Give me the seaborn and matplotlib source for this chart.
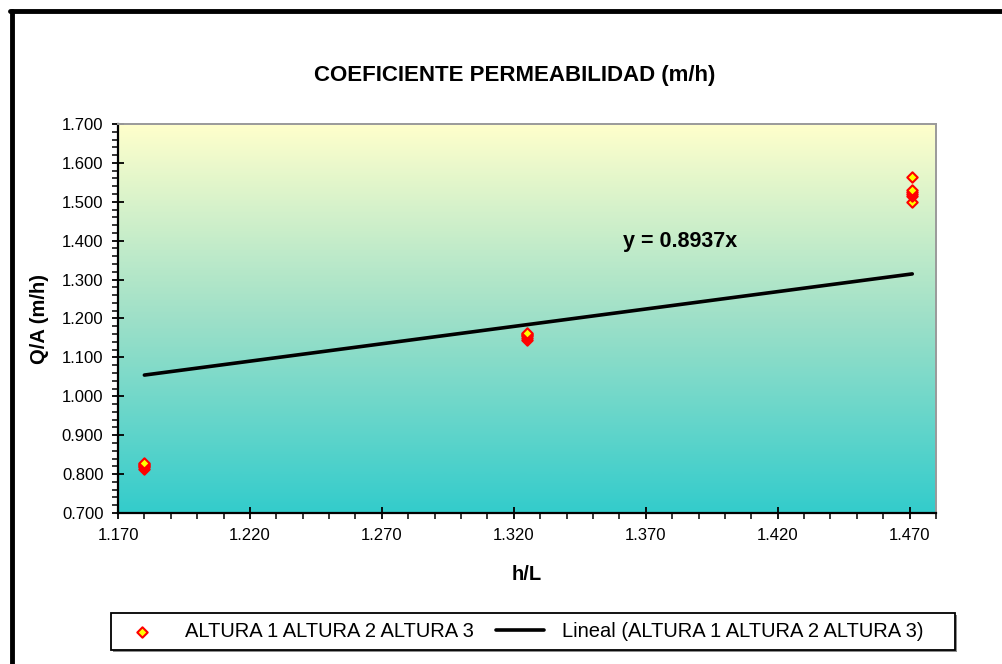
import numpy as np
import pandas as pd
import matplotlib
matplotlib.use('Agg')
import matplotlib.pyplot as plt
import seaborn as sns
from matplotlib.colors import LinearSegmentedColormap
from matplotlib.lines import Line2D
from matplotlib.patches import Rectangle
from matplotlib.ticker import MultipleLocator, FormatStrFormatter

# data
h_l = [1.180] * 6 + [1.325] * 6 + [1.471] * 6
q_a = [0.813, 0.817, 0.820, 0.823, 0.826, 0.828,
       1.145, 1.150, 1.155, 1.158, 1.160, 1.163,
       1.500, 1.515, 1.520, 1.525, 1.530, 1.565]
slope = 0.8937

series_name = 'ALTURA 1 ALTURA 2 ALTURA 3'
trend_name = 'Lineal (ALTURA 1 ALTURA 2 ALTURA 3)'

df = pd.DataFrame({'h/L': h_l, 'Q/A': q_a})
trend = pd.DataFrame({'h/L': [min(h_l), max(h_l)]})
trend['Q/A'] = slope * trend['h/L']

sns.set_style('white')
plt.rcParams['font.family'] = ['Liberation Sans', 'DejaVu Sans']
plt.rcParams['text.color'] = 'black'
plt.rcParams['axes.labelcolor'] = 'black'
plt.rcParams['xtick.color'] = 'black'
plt.rcParams['ytick.color'] = 'black'

W, H = 1002, 664
fig = plt.figure(figsize=(W / 100, H / 100), dpi=100)
ax = fig.add_axes([118 / W, 1 - 513 / H, (936 - 118) / W, (513 - 124) / H])

# gradient background of the plot area
cmap = LinearSegmentedColormap.from_list('bg', ['#33CCCC', '#9EE0C8', '#FFFFCC'])
grad = np.linspace(0, 1, 256).reshape(-1, 1)
ax.imshow(grad, cmap=cmap, aspect='auto', extent=[0, 1, 0, 1],
          transform=ax.transAxes, origin='lower', zorder=0)

sns.lineplot(data=trend, x='h/L', y='Q/A', color='black', linewidth=2.6,
             ax=ax, zorder=2, label=trend_name)
sns.scatterplot(data=df, x='h/L', y='Q/A', marker='D', s=28, color='#FFFF00',
                edgecolor='#FF0000', linewidth=1.5, ax=ax, zorder=3,
                label=series_name)

ax.set_xlim(1.170, 1.480)
ax.set_ylim(0.700, 1.700)
ax.xaxis.set_major_locator(MultipleLocator(0.05, offset=0.02))
ax.xaxis.set_minor_locator(MultipleLocator(0.01))
ax.yaxis.set_major_locator(MultipleLocator(0.1))
ax.yaxis.set_minor_locator(MultipleLocator(0.02))
ax.xaxis.set_major_formatter(FormatStrFormatter('%.3f'))
ax.yaxis.set_major_formatter(FormatStrFormatter('%.3f'))
ax.tick_params(which='major', direction='inout', length=9, width=1.3,
               labelsize=12, color='black', bottom=True, left=True, pad=6)
ax.tick_params(which='minor', direction='out', length=4, width=1.1,
               color='black', bottom=True, left=True)

for side in ['left', 'bottom']:
    ax.spines[side].set_color('black')
    ax.spines[side].set_linewidth(1.6)
for side in ['top', 'right']:
    ax.spines[side].set_color('#9a9a9a')
    ax.spines[side].set_linewidth(1.4)

ax.set_xlabel('h/L', fontsize=14.5, fontweight='bold')
ax.set_ylabel('Q/A (m/h)', fontsize=14.5, fontweight='bold')
ax.xaxis.set_label_coords(0.5, -(565 - 513) / 389)
ax.yaxis.set_label_coords(-(118 - 49) / 818, 0.5)
fig.text(515 / W, 1 - 75 / H, 'COEFICIENTE PERMEABILIDAD (m/h)',
         ha='center', va='center', fontsize=16, fontweight='bold')
ax.text(1.383, 1.397, 'y = 0.8937x', fontsize=15.5, fontweight='bold',
        ha='center', va='center')

# legend: box drawn separately so it spans the same width as the original
fig.add_artist(Rectangle((113 / W, 1 - 652 / H), 844 / W, 37 / H,
                         transform=fig.transFigure, facecolor='#8c8c8c',
                         edgecolor='none', zorder=4))
fig.add_artist(Rectangle((111 / W, 1 - 650 / H), 844 / W, 37 / H,
                         transform=fig.transFigure, facecolor='white',
                         edgecolor='black', linewidth=1.3, zorder=5))
handles, labels = ax.get_legend_handles_labels()
ax.get_legend().remove()
order = [labels.index(series_name), labels.index(trend_name)]
leg = fig.legend([handles[i] for i in order], [labels[i] for i in order],
                 loc='center left', ncol=2,
                 bbox_to_anchor=(111 / W, 1 - 631.5 / H),
                 fontsize=14.5, frameon=False,
                 handlelength=2.4, handletextpad=0.9, columnspacing=1.1,
                 borderpad=0.35, borderaxespad=0)
leg.set_zorder(6)

# outer chart border (only top and left visible in the crop)
fig.add_artist(Line2D([10 / W, 1], [1 - 11 / H, 1 - 11 / H], color='black',
                      linewidth=3.5, transform=fig.transFigure))
fig.add_artist(Line2D([12 / W, 12 / W], [0, 1 - 11 / H], color='black',
                      linewidth=3.5, transform=fig.transFigure))

fig.savefig('out.png', dpi=100)
plt.close(fig)
